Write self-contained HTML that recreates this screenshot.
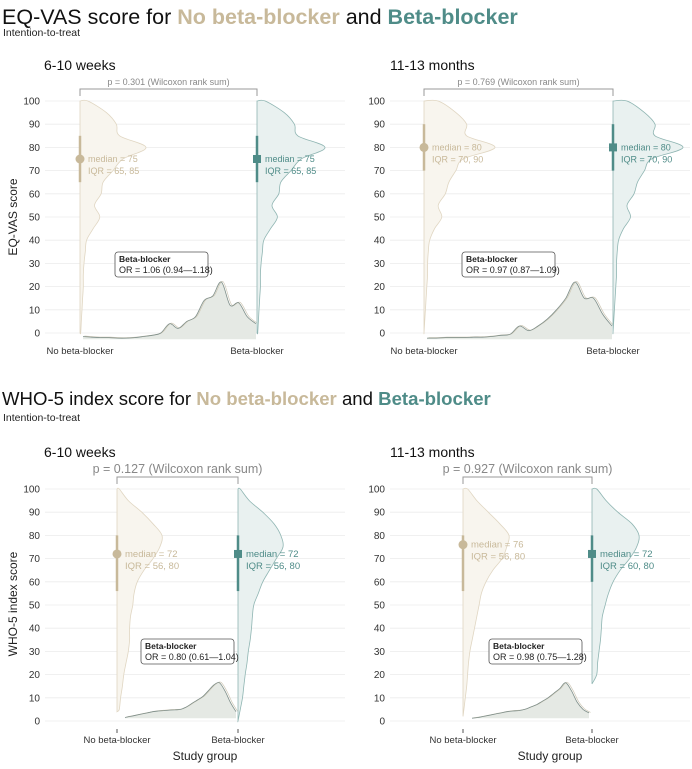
<!DOCTYPE html>
<html><head><meta charset="utf-8"><style>
body{margin:0;background:#fff;font-family:"Liberation Sans",Arial,sans-serif}
svg text{font-family:"Liberation Sans",Arial,sans-serif}
</style></head><body>
<svg id="chart" width="692" height="764" viewBox="0 0 692 764" xmlns="http://www.w3.org/2000/svg">
<text x="2" y="24" font-size="21.5" fill="#111">EQ-VAS score for <tspan fill="#c8b99a" font-weight="bold">No beta-blocker</tspan> and <tspan fill="#4f8c88" font-weight="bold">Beta-blocker</tspan></text>
<text x="3" y="36" font-size="10.5" fill="#222">Intention-to-treat</text>
<text x="2" y="405" font-size="18.6" fill="#111">WHO-5  index score for <tspan fill="#c8b99a" font-weight="bold">No beta-blocker</tspan> and <tspan fill="#4f8c88" font-weight="bold">Beta-blocker</tspan></text>
<text x="3" y="421" font-size="10.5" fill="#222">Intention-to-treat</text>
<text transform="translate(17,217) rotate(-90)" text-anchor="middle" font-size="12" fill="#222">EQ-VAS score</text>
<text transform="translate(17,604) rotate(-90)" text-anchor="middle" font-size="12" fill="#222">WHO-5 index score</text>
<g id="panels"></g>
</svg>
<script>
const yTicks=[0,10,20,30,40,50,60,70,80,90,100];
const densScores=[0,5,10,15,20,25,30,35,40,45,50,55,60,65,70,75,80,85,90,95,100];
const eqEarlyNB=[0.01,0.02,0.03,0.04,0.05,0.05,0.06,0.08,0.1,0.2,0.3,0.22,0.32,0.35,0.5,0.65,1.0,0.6,0.55,0.4,0.12];
const eqEarlyB=[0.01,0.02,0.03,0.04,0.05,0.05,0.06,0.08,0.1,0.2,0.3,0.22,0.32,0.35,0.5,0.65,1.0,0.6,0.55,0.4,0.12];
const eqLateNB=[0,0.01,0.02,0.03,0.04,0.05,0.05,0.06,0.08,0.15,0.25,0.2,0.3,0.35,0.45,0.55,1.0,0.6,0.6,0.45,0.2];
const eqLateB=[0,0.01,0.02,0.03,0.04,0.05,0.05,0.06,0.08,0.15,0.25,0.2,0.3,0.35,0.45,0.55,1.0,0.6,0.6,0.45,0.2];
const whoEarlyNB=[0,0.05,0.08,0.12,0.15,0.2,0.25,0.28,0.28,0.3,0.35,0.38,0.45,0.6,0.8,0.95,1.0,0.8,0.55,0.25,0.05];
const whoEarlyB=[0,0.05,0.1,0.13,0.16,0.2,0.23,0.27,0.3,0.32,0.35,0.45,0.55,0.7,0.85,1.0,0.95,0.8,0.55,0.25,0.05];
const whoLateNB=[0,0.02,0.05,0.08,0.1,0.12,0.15,0.2,0.25,0.3,0.35,0.4,0.5,0.65,0.85,0.95,1.0,0.8,0.55,0.3,0.1];
const whoLateB=[0,0,0,0.05,0.1,0.12,0.15,0.18,0.2,0.22,0.28,0.35,0.45,0.6,0.8,0.95,1.0,0.85,0.55,0.3,0.1];
const eqEarlyH=[-1.5,-1.8,-2,-2,-2.2,-2.2,-2,-1.5,-1,0,4,2,5,7,14,16,22,12,13,7,4];
const eqLateH=[-2.2,-2.2,-2,-2,-2,-1.8,-1.8,-1.5,-1,-0.5,3,1,3,6,10,15,22,15,15,8,3];
const whoEarlyH=[1.5,2,2.5,3,3.5,4,4.3,4.5,4.7,4.8,5,6,7.5,9,10.5,13,15.5,16.5,13,8,4];
const whoLateH=[1.2,1.5,2,2.5,3,3.5,4,4.3,4.5,5,6,7,8.5,10,12,14,16.5,13,8,5,3.5];
const medians=[[75,75],[80,80],[72,72],[76,72]];
const iqrs=[[[65,85],[65,85]],[[70,90],[70,90]],[[56,80],[56,80]],[[56,80],[60,80]]];
const pValues=["0.301","0.769","0.127","0.927"];
const orTexts=["OR = 1.06 (0.94\u20141.18)","OR = 0.97 (0.87\u20141.09)","OR = 0.80 (0.61\u20141.04)","OR = 0.98 (0.75\u20141.28)"];
const panelTitles=["6-10  weeks","11-13  months","6-10  weeks","11-13  months"];
const groups=["No beta-blocker","Beta-blocker"];

const NS="http://www.w3.org/2000/svg";
const root=document.getElementById('panels');
function mk(tag,attrs,parent){const e=document.createElementNS(NS,tag);for(const k in attrs)e.setAttribute(k,attrs[k]);(parent||root).appendChild(e);return e;}
function smooth(pts){
 let d="";
 for(let i=0;i<pts.length;i++){
  if(i===0){d+="M"+pts[0][0].toFixed(1)+","+pts[0][1].toFixed(1);continue;}
  const p0=pts[Math.max(0,i-2)],p1=pts[i-1],p2=pts[i],p3=pts[Math.min(pts.length-1,i+1)];
  const c1=[p1[0]+(p2[0]-p0[0])/6,p1[1]+(p2[1]-p0[1])/6];
  const c2=[p2[0]-(p3[0]-p1[0])/6,p2[1]-(p3[1]-p1[1])/6];
  d+=` C${c1[0].toFixed(1)},${c1[1].toFixed(1)} ${c2[0].toFixed(1)},${c2[1].toFixed(1)} ${p2[0].toFixed(1)},${p2[1].toFixed(1)}`;
 }
 return d;
}

const layout=[
 {x0:45,x1:345,nb:80,b:257,y100:101,y0:333,tx:40,titleX:44,titleY:70,dens:[eqEarlyNB,eqEarlyB],w:[66,68],start:[0,0],h:eqEarlyH,hx:[83,256],hb:-2.7,big:false,xl:354,orX:115,orY:252},
 {x0:390,x1:690,nb:424,b:613,y100:101,y0:333,tx:385,titleX:390,titleY:70,dens:[eqLateNB,eqLateB],w:[71,70],start:[0,0],h:eqLateH,hx:[427,612],hb:-2.7,big:false,xl:354,orX:462,orY:252},
 {x0:45,x1:345,nb:117,b:238,y100:489,y0:721,tx:40,titleX:44,titleY:457,dens:[whoEarlyNB,whoEarlyB],w:[45,45],start:[4,0],h:whoEarlyH,hx:[125,236],hb:1.2,big:true,xl:743,orX:141,orY:639},
 {x0:390,x1:690,nb:463,b:592,y100:489,y0:721,tx:385,titleX:390,titleY:457,dens:[whoLateNB,whoLateB],w:[46,47],start:[2,16],h:whoLateH,hx:[472,589],hb:1.2,big:true,xl:743,orX:489,orY:639}
];
const tan="#c8b99a",teal="#4f8c88";

layout.forEach((L,pi)=>{
 const g=mk('g',{});
 
 
 const Y=v=>L.y0+(L.y100-L.y0)*v/100;
 yTicks.forEach(t=>{
  const ln=mk('line',{x1:L.x0,x2:L.x1,y1:Y(t),y2:Y(t),stroke:"#ececec","stroke-width":0.8},g);
  
  
  const tx=mk('text',{x:L.tx,y:Y(t)+3.5,"text-anchor":"end","font-size":10,fill:"#333"},g);
  
  
  tx.textContent=t;
 });
 const tt=mk('text',{x:L.titleX,y:L.titleY,"font-size":14,fill:"#111"},g);
 
 
 tt.textContent=panelTitles[pi];
 const hx=i=>L.hx[0]+(L.hx[1]-L.hx[0])*i/(L.h.length-1);
 const hpts=L.h.map((v,i)=>[hx(i),Y(v)]);
 const dl=smooth(hpts);
 const d=dl+" L"+hx(L.h.length-1)+","+Y(L.hb)+" L"+hx(0)+","+Y(L.hb)+"Z";
 const hp=mk('path',{d:d,fill:"#e5e9e4",stroke:"none"},g);
 
 
 const hl2=mk('path',{d:dl,fill:"none",stroke:"#cfc8b6","stroke-width":0.7,transform:"translate(1.5,-0.5)"},g);
 
 
 const hl=mk('path',{d:dl,fill:"none",stroke:"#7f8f8a","stroke-width":0.8},g);
 
 
 [0,1].forEach(k=>{
  const cx=k?L.b:L.nb, arr=L.dens[k], st=L.start[k];
  const pts=[[cx,Y(st)]];
  densScores.forEach((s,i)=>{if(s<st)return;pts.push([cx+arr[i]*L.w[k],Y(s)]);});
  pts.push([cx,Y(100)]);
  const p=smooth(pts)+"Z";
  const vp=mk('path',{d:p,fill:k?"#e9f1f0":"#f8f5ee",stroke:k?"#8fb5b2":"#e0d6c2","stroke-width":0.8},g);
  
  
  const col=k?teal:tan;
  const iq=mk('line',{x1:cx,x2:cx,y1:Y(iqrs[pi][k][0]),y2:Y(iqrs[pi][k][1]),stroke:col,"stroke-width":2.5},g);
  
  
  const my=Y(medians[pi][k]);
  let m;
  if(k){m=mk('rect',{x:cx-4,y:my-4,width:8,height:8,fill:col},g);}
  else{m=mk('circle',{cx:cx,cy:my,r:4.5,fill:col},g);}
  
  
  const fs=L.big?9.5:9;
  const t1=mk('text',{x:cx+8,y:my+3,"font-size":fs,fill:col},g);
  
  
  t1.textContent="median = "+medians[pi][k];
  const t2=mk('text',{x:cx+8,y:my+15,"font-size":fs,fill:col},g);
  
  
  t2.textContent="IQR = "+iqrs[pi][k][0]+", "+iqrs[pi][k][1];
  const xl=mk('text',{x:cx,y:L.xl,"text-anchor":"middle","font-size":9.5,fill:"#333"},g);
  
  
  xl.textContent=groups[k];
  if(L.big){const tk=mk('line',{x1:cx,x2:cx,y1:L.xl-14,y2:L.xl-10,stroke:"#555"},g);
   
   }
 });
 const by=L.big?477:89;
 const br=mk('path',{d:`M${L.nb},${by+7} L${L.nb},${by} L${L.b},${by} L${L.b},${by+7}`,fill:"none",stroke:"#999","stroke-width":1},g);
 
 
 const pt=mk('text',{x:(L.nb+L.b)/2,y:by-4,"text-anchor":"middle","font-size":L.big?12.5:9,fill:"#888"},g);
 
 
 pt.textContent="p = "+pValues[pi]+" (Wilcoxon rank sum)";
 const ob=mk('rect',{x:L.orX,y:L.orY,width:93,height:25,rx:3,fill:"#fff",stroke:"#555","stroke-width":0.8},g);
 
 
 const o1=mk('text',{x:L.orX+4,y:L.orY+10,"font-size":8.5,"font-weight":"bold",fill:"#222"},g);
 
 
 o1.textContent="Beta-blocker";
 const o2=mk('text',{x:L.orX+4,y:L.orY+21,"font-size":9,fill:"#222"},g);
 
 
 o2.textContent=orTexts[pi];
 if(L.big){const xt=mk('text',{x:(L.x0+L.x1)/2+10,y:760,"text-anchor":"middle","font-size":12,fill:"#222"},g);
  
  
  xt.textContent="Study group";}
});
</script>
</body></html>
